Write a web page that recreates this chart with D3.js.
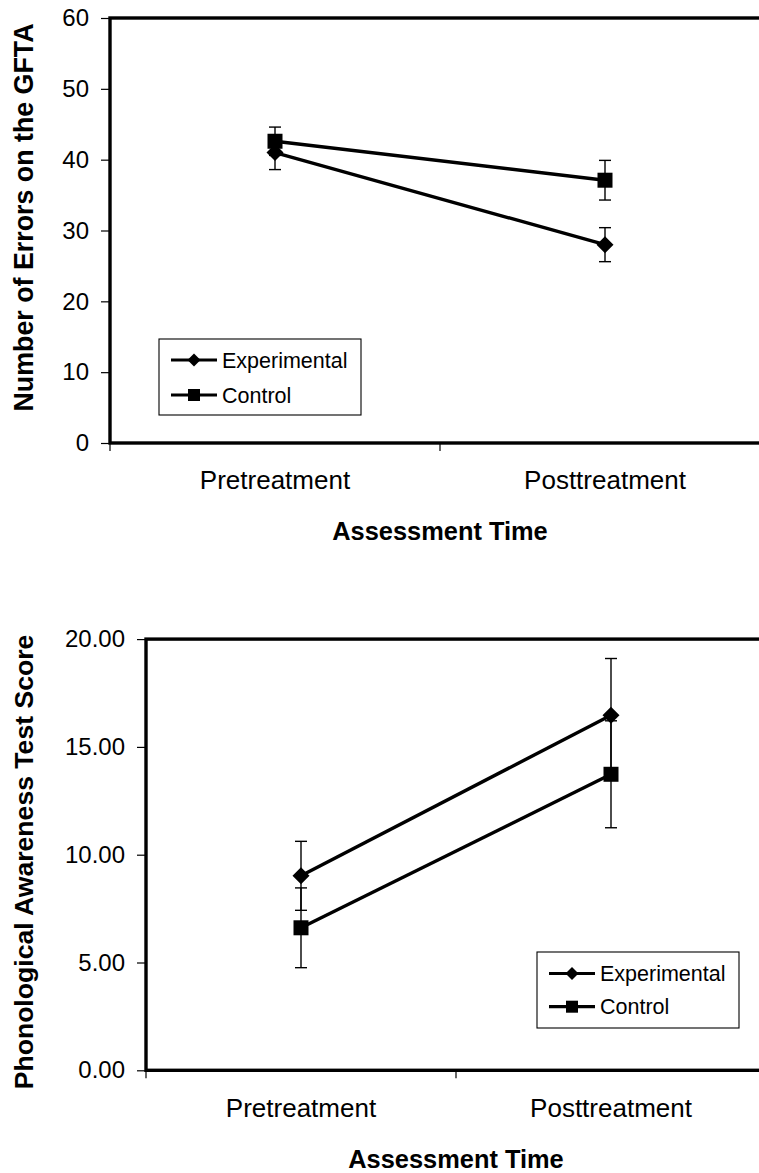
<!DOCTYPE html>
<html>
<head>
<meta charset="utf-8">
<script src="https://cdn.jsdelivr.net/npm/d3@7"></script>
<style>
  html, body { margin: 0; padding: 0; background: #fff; }
  svg { display: block; font-family: "Liberation Sans", Arial, Helvetica, sans-serif; }
</style>
</head>
<body>
<svg id="chart" width="759" height="1173"></svg>
<script>
// ---------- data ----------
const categories = ["Pretreatment", "Posttreatment"];
const seriesNames = ["Experimental", "Control"];

const gftaExperimental = [41.0, 28.0];
const gftaExperimentalErr = [2.4, 2.4];
const gftaControl = [42.6, 37.1];
const gftaControlErr = [2.0, 2.8];
const gftaTicks = [0, 10, 20, 30, 40, 50, 60];

const paExperimental = [9.02, 16.47];
const paExperimentalErr = [1.6, 2.63];
const paControl = [6.61, 13.73];
const paControlErr = [1.85, 2.48];
const paTicks = [0, 5, 10, 15, 20];

const xTitle = "Assessment Time";
const gftaTitle = "Number of Errors on the GFTA";
const paTitle = "Phonological Awareness Test Score";

// ---------- drawing ----------
const svg = d3.select("#chart");
const diamond = d3.symbol().type(d3.symbolDiamond2);

function marker(sel, type, size) {
  if (type === "diamond") {
    const h = size / 2;
    sel.append("path").attr("d", `M0,${-h}L${h},0L0,${h}L${-h},0Z`).attr("fill", "#000");
  } else {
    sel.append("rect").attr("x", -size / 2).attr("y", -size / 2)
      .attr("width", size).attr("height", size).attr("fill", "#000");
  }
}

function drawChart(cfg) {
  const g = svg.append("g");
  const x = d3.scaleBand().domain(categories).range([cfg.left, cfg.right]);
  const y = d3.scaleLinear().domain([0, d3.max(cfg.ticks)]).range([cfg.bottom, cfg.top]);

  // y axis ticks & labels
  const yAxis = d3.axisLeft(y).tickValues(cfg.ticks).tickSize(9).tickPadding(12)
    .tickFormat(cfg.fmt);
  const ya = g.append("g").attr("transform", `translate(${cfg.left},0)`).call(yAxis);
  ya.select(".domain").remove();
  ya.selectAll("line").attr("stroke", "#000").attr("stroke-width", 1.2);
  ya.selectAll("text").attr("font-size", cfg.tickFont).attr("fill", "#000")
    .attr("font-family", null);

  // x axis labels (at band centers) and boundary ticks
  const xAxis = d3.axisBottom(x).tickSize(0);
  const xa = g.append("g").attr("transform", `translate(0,${cfg.bottom})`).call(xAxis);
  xa.select(".domain").remove();
  xa.selectAll("text").attr("font-size", cfg.catFont).attr("fill", "#000")
    .attr("font-family", null).attr("dy", null).attr("y", cfg.catOffset);
  const bounds = categories.map(c => x(c)).concat([x.range()[1]]);
  g.append("g").selectAll("line").data(bounds).join("line")
    .attr("x1", d => d).attr("x2", d => d)
    .attr("y1", cfg.bottom).attr("y2", cfg.bottom + 8)
    .attr("stroke", "#000").attr("stroke-width", 1.2);

  // frame
  g.append("rect").attr("x", cfg.left).attr("y", y(d3.max(cfg.ticks)))
    .attr("width", cfg.right - cfg.left).attr("height", cfg.bottom - cfg.top)
    .attr("fill", "none").attr("stroke", "#000").attr("stroke-width", 3.4);

  const series = [
    { name: seriesNames[0], values: cfg.exp, errs: cfg.expErr, type: "diamond", size: 17 },
    { name: seriesNames[1], values: cfg.ctl, errs: cfg.ctlErr, type: "square", size: 15 }
  ];
  const cx = c => x(c) + x.bandwidth() / 2;

  // error bars
  series.forEach(s => {
    const eb = g.append("g");
    categories.forEach((c, i) => {
      const v = s.values[i], e = s.errs[i];
      eb.append("line").attr("x1", cx(c)).attr("x2", cx(c))
        .attr("y1", y(v - e)).attr("y2", y(v + e))
        .attr("stroke", "#000").attr("stroke-width", 1.4);
      [v - e, v + e].forEach(t => {
        eb.append("line").attr("x1", cx(c) - 6).attr("x2", cx(c) + 6)
          .attr("y1", y(t)).attr("y2", y(t))
          .attr("stroke", "#000").attr("stroke-width", 1.4);
      });
    });
  });

  // lines
  const line = d3.line().x((d, i) => cx(categories[i])).y(d => y(d));
  series.forEach(s => {
    g.append("path").attr("d", line(s.values)).attr("fill", "none")
      .attr("stroke", "#000").attr("stroke-width", 3.4);
  });

  // markers
  series.forEach(s => {
    s.values.forEach((v, i) => {
      const m = g.append("g").attr("transform", `translate(${cx(categories[i])},${y(v)})`);
      marker(m, s.type, s.size);
    });
  });

  // axis titles
  g.append("text").attr("x", (cfg.left + cfg.right) / 2).attr("y", cfg.bottom + cfg.xTitleOffset)
    .attr("text-anchor", "middle").attr("font-weight", "bold").attr("font-size", 25.4)
    .text(xTitle);
  g.append("text").attr("transform", `translate(${cfg.yTitleX},${cfg.yTitleY}) rotate(-90)`)
    .attr("text-anchor", "middle").attr("font-weight", "bold").attr("font-size", cfg.yTitleFont)
    .text(cfg.yTitle);

  // legend
  const lg = g.append("g").attr("transform", `translate(${cfg.legX},${cfg.legY})`);
  lg.append("rect").attr("x", 0).attr("y", 0).attr("width", 202).attr("height", 76)
    .attr("fill", "#fff").attr("stroke", "#000").attr("stroke-width", 1.1);
  series.forEach((s, i) => {
    const ey = cfg.legRow0 + i * cfg.legGap;
    lg.append("line").attr("x1", 12).attr("x2", 58).attr("y1", ey).attr("y2", ey)
      .attr("stroke", "#000").attr("stroke-width", 3.2);
    const m = lg.append("g").attr("transform", `translate(35,${ey})`);
    marker(m, s.type, s.type === "diamond" ? 13 : 12);
    lg.append("text").attr("x", 63).attr("y", ey + 7.5).attr("font-size", 21.5)
      .text(s.name);
  });
}

drawChart({
  left: 110, right: 770, top: 18, bottom: 443,
  ticks: gftaTicks, fmt: d3.format("d"),
  exp: gftaExperimental, expErr: gftaExperimentalErr,
  ctl: gftaControl, ctlErr: gftaControlErr,
  tickFont: 24, catFont: 26, catOffset: 46, xTitleOffset: 97,
  yTitle: gftaTitle, yTitleX: 33, yTitleY: 217.5, yTitleFont: 26.8,
  legX: 159, legY: 339, legRow0: 21, legGap: 35
});

drawChart({
  left: 146, right: 766, top: 639.1, bottom: 1070.3,
  ticks: paTicks, fmt: d3.format(".2f"),
  exp: paExperimental, expErr: paExperimentalErr,
  ctl: paControl, ctlErr: paControlErr,
  tickFont: 24, catFont: 26, catOffset: 47, xTitleOffset: 98,
  yTitle: paTitle, yTitleX: 33, yTitleY: 862, yTitleFont: 26.6,
  legX: 537, legY: 952, legRow0: 21.5, legGap: 33.2
});
</script>
</body>
</html>
